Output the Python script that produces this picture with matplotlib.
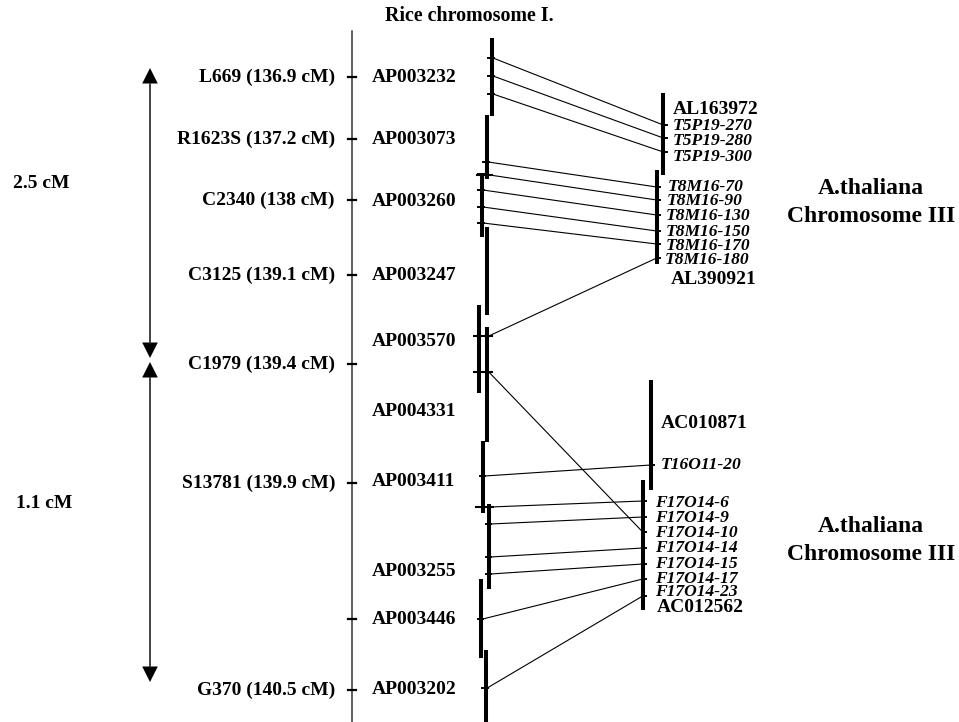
import matplotlib
matplotlib.use("Agg")
import matplotlib.pyplot as plt
from matplotlib.patches import Polygon

plt.rcParams["font.family"] = ["Liberation Serif", "DejaVu Serif"]
plt.rcParams["font.weight"] = "bold"

# rice genetic markers on chromosome I (name, cM) and their row on the map
marker_names = ["L669", "R1623S", "C2340", "C3125", "C1979", "S13781", "G370"]
marker_cm = ["136.9", "137.2", "138", "139.1", "139.4", "139.9", "140.5"]
marker_y = [77, 139, 200, 275, 364, 483, 690]
extra_tick_y = [619]

# rice BAC/PAC clones: label row, bar column, bar span
bac_names = ["AP003232", "AP003073", "AP003260", "AP003247", "AP003570",
             "AP004331", "AP003411", "AP003255", "AP003446", "AP003202"]
bac_label_y = [77, 139, 201, 276, 341, 412, 482, 571, 619, 690]
bac_x = [491.5, 486.7, 481.5, 486.7, 479.3, 487.3, 483.3, 489.0, 481.3, 485.7]
bac_top = [38, 115, 173, 227, 305, 327, 441, 504, 579, 650]
bac_bottom = [116, 179, 237, 315, 393, 442, 513, 589, 658, 722]

# Arabidopsis BACs on chromosome III
ath_names = ["AL163972", "AL390921", "AC010871", "AC012562"]
ath_x = [663.3, 656.7, 650.7, 642.7]
ath_top = [93, 170, 380, 480]
ath_bottom = [175, 264, 490, 610]
ath_label_xy = [(673, 109), (671, 280), (661, 423), (657, 608)]

# Arabidopsis genes: name, host BAC, tick row, label row, label column
gene_names = ["T5P19-270", "T5P19-280", "T5P19-300",
              "T8M16-70", "T8M16-90", "T8M16-130", "T8M16-150", "T8M16-170", "T8M16-180",
              "T16O11-20",
              "F17O14-6", "F17O14-9", "F17O14-10", "F17O14-14", "F17O14-15",
              "F17O14-17", "F17O14-23"]
gene_bac = [0, 0, 0, 1, 1, 1, 1, 1, 1, 2, 3, 3, 3, 3, 3, 3, 3]
gene_tick_y = [125, 138, 152, 187, 200, 215, 231, 244, 258, 465,
               501, 517, 532, 548, 564, 579, 596]
gene_label_y = [126, 141, 157, 187, 201, 216, 232, 246, 260, 465,
                503, 518, 533, 548, 564, 579, 592]
gene_label_x = [673, 673, 673, 668, 667, 666, 666, 666, 665, 661,
                655, 655, 655, 655, 655, 655, 655]

# syntenic links: rice BAC index, row on that BAC, target gene index
link_bac = [0, 0, 0, 1, 2, 2, 2, 2, 5, 5, 6, 7, 7, 7, 7, 8, 9]
link_y = [58, 76, 94, 162, 174, 190, 207, 223, 336, 372, 476,
          507, 524, 557, 574, 619, 688]
link_gene = [0, 1, 2, 3, 4, 5, 6, 7, 8, 12, 9, 10, 11, 13, 14, 15, 16]

# genetic distance intervals drawn as arrows on the left
interval_labels = ["2.5 cM", "1.1 cM"]
interval_top = [68, 362]
interval_bottom = [358, 682]
interval_label_x = [13, 16]
interval_label_y = [183, 503]

fig = plt.figure(figsize=(9.59, 7.22), dpi=100)
ax = fig.add_axes([0, 0, 1, 1])
ax.set_xlim(0, 959)
ax.set_ylim(722, 0)
ax.axis("off")

LABEL_FS = 14
GENE_FS = 12.6

ax.text(469, 16, "Rice chromosome I.", fontsize=14.4, ha="center", va="center")

# rice genetic map axis
ax.plot([351.5, 351.5], [31, 722], color="#333333", lw=1.1)
for y in marker_y + extra_tick_y:
    ax.plot([348, 356], [y, y], color="black", lw=1.6)
for name, cm, y in zip(marker_names, marker_cm, marker_y):
    ax.text(335, y, f"{name} ({cm} cM)", fontsize=LABEL_FS, ha="right", va="center")

for name, y in zip(bac_names, bac_label_y):
    ax.text(372, y, name, fontsize=LABEL_FS, ha="left", va="center")

# interval arrows
ax_x = 150
head_w, head_h = 7.8, 15.5
for top, bottom, label, lx, ly in zip(interval_top, interval_bottom, interval_labels,
                                      interval_label_x, interval_label_y):
    ax.plot([ax_x, ax_x], [top + head_h, bottom - head_h], color="#222222", lw=1.2)
    ax.add_patch(Polygon([[ax_x, top], [ax_x - head_w, top + head_h], [ax_x + head_w, top + head_h]],
                         closed=True, color="black", lw=0))
    ax.add_patch(Polygon([[ax_x, bottom], [ax_x - head_w, bottom - head_h], [ax_x + head_w, bottom - head_h]],
                         closed=True, color="black", lw=0))
    ax.text(lx, ly, label, fontsize=LABEL_FS, ha="left", va="center")

# rice BAC contig bars
for x, t, b in zip(bac_x, bac_top, bac_bottom):
    ax.plot([x, x], [t, b], color="black", lw=2.9, solid_capstyle="butt")

# cross bars marking overlapping clone ends
for y, x0, x1 in [(175, 477, 492), (336, 474, 492), (372, 474, 492), (507, 476, 493)]:
    ax.plot([x0, x1], [y, y], color="black", lw=1.5)

# Arabidopsis BAC bars and labels
for x, t, b in zip(ath_x, ath_top, ath_bottom):
    ax.plot([x, x], [t, b], color="black", lw=2.9, solid_capstyle="butt")
for name, (x, y) in zip(ath_names, ath_label_xy):
    ax.text(x, y, name, fontsize=LABEL_FS, ha="left", va="center")

for name, bi, ty, ly, lx in zip(gene_names, gene_bac, gene_tick_y, gene_label_y, gene_label_x):
    x = ath_x[bi]
    ax.plot([x, x + 3.5], [ty, ty], color="black", lw=1.4)
    ax.text(lx, ly, name, fontsize=GENE_FS, style="italic", ha="left", va="center")

# synteny links
for bi, y, gi in zip(link_bac, link_y, link_gene):
    x0 = bac_x[bi]
    x1 = ath_x[gene_bac[gi]]
    ax.plot([x0 - 3.5, x0 + 2], [y, y], color="black", lw=1.4)
    ax.plot([x0 + 1.5, x1], [y, gene_tick_y[gi]], color="black", lw=0.8)

for y0 in [188, 526]:
    ax.text(871, y0, "A.thaliana", fontsize=17, ha="center", va="center")
    ax.text(871, y0 + 28.5, "Chromosome III", fontsize=17, ha="center", va="center")

fig.savefig("out.png", dpi=100)
